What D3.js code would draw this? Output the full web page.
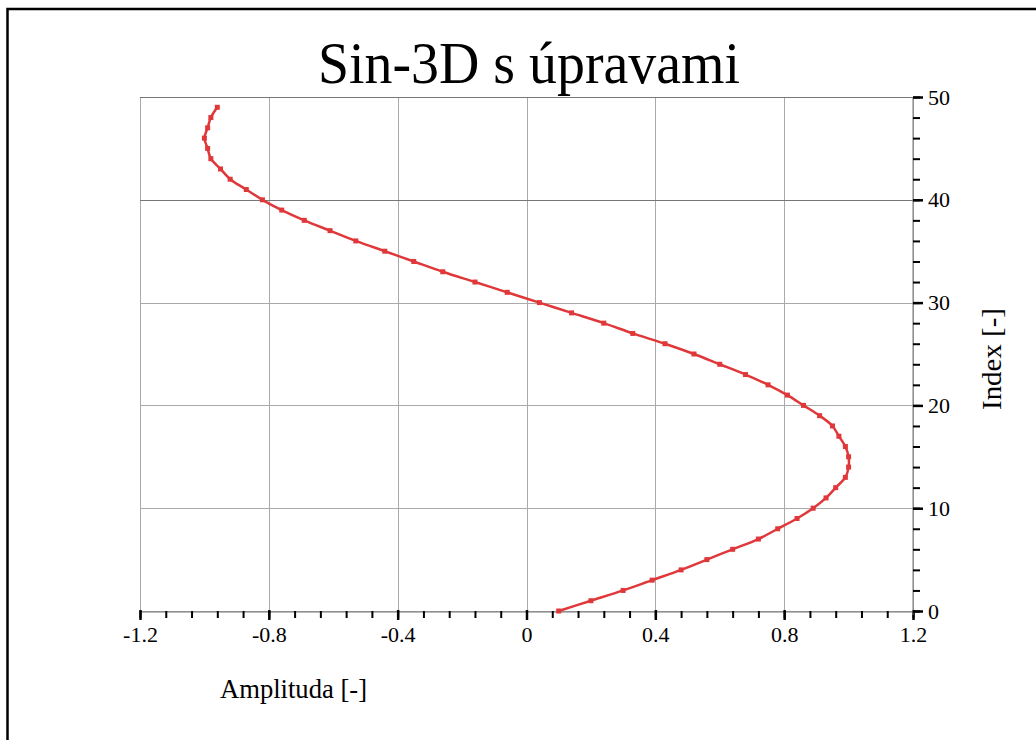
<!DOCTYPE html>
<html>
<head>
<meta charset="utf-8">
<script src="https://cdn.jsdelivr.net/npm/d3@7"></script>
<style>
  html, body { margin: 0; padding: 0; background: #fff; }
  svg { display: block; }
  text { font-family: "Liberation Serif", "Times New Roman", serif; fill: #000; }
</style>
</head>
<body>
<svg id="chart" width="1036" height="740"></svg>
<script>
const title = "Sin-3D s úpravami";
const xLabel = "Amplituda [-]";
const yLabel = "Index [-]";
const indexValues = [0,1,2,3,4,5,6,7,8,9,10,11,12,13,14,15,16,17,18,19,20,21,22,23,24,25,26,27,28,29,30,31,32,33,34,35,36,37,38,39,40,41,42,43,44,45,46,47,48,49];
const amplitudeValues = [0.10,0.20,0.30,0.39,0.48,0.56,0.64,0.72,0.78,0.84,0.89,0.93,0.96,0.99,1.00,1.00,0.99,0.97,0.95,0.91,0.86,0.81,0.75,0.68,0.60,0.52,0.43,0.33,0.24,0.14,0.04,-0.06,-0.16,-0.26,-0.35,-0.44,-0.53,-0.61,-0.69,-0.76,-0.82,-0.87,-0.92,-0.95,-0.98,-0.99,-1.00,-0.99,-0.98,-0.96];
const xTicks = [-1.2,-0.8,-0.4,0,0.4,0.8,1.2];
const xTickLabels = ["-1.2","-0.8","-0.4","0","0.4","0.8","1.2"];
const yTicks = [0,10,20,30,40,50];
const yTickLabels = ["0","10","20","30","40","50"];

const svg = d3.select("#chart");
const L = 140, R = 913, T = 97, B = 611;
const x = d3.scaleLinear().domain([-1.2, 1.2]).range([L, R]);
const y = d3.scaleLinear().domain([0, 50]).range([B, T]);

// outer frame
svg.append("rect").attr("x", 7.5).attr("y", 9).attr("width", 1100).attr("height", 800)
  .attr("fill", "none").attr("stroke", "#000").attr("stroke-width", 2.5);

// grid
const g = svg.append("g");
g.selectAll(".vg").data(xTicks).join("line")
  .attr("x1", d => Math.round(x(d)) + 0.5).attr("x2", d => Math.round(x(d)) + 0.5)
  .attr("y1", T).attr("y2", B).attr("stroke", "#aaa").attr("stroke-width", 1);
g.selectAll(".hg").data(yTicks).join("line")
  .attr("y1", d => Math.round(y(d)) + 0.5).attr("y2", d => Math.round(y(d)) + 0.5)
  .attr("x1", L).attr("x2", R).attr("stroke", d => (d === 40 || d === 50) ? "#777" : "#aaa").attr("stroke-width", 1);

// x axis
const xMinor = d3.range(-1.2, 1.2001, 0.08).map(v => +v.toFixed(2));
const xa = svg.append("g").attr("transform", `translate(0,${B + 1})`);
xa.append("line").attr("x1", L).attr("x2", R).attr("stroke", "#777").attr("stroke-width", 1);
xa.call(d3.axisBottom(x).tickValues(xMinor).tickSize(6).tickFormat(""))
  .call(s => s.select(".domain").remove())
  .call(s => s.selectAll(".tick line").attr("stroke", "#000").attr("stroke-width", 2).attr("y1", -1));
const xa2 = svg.append("g").attr("transform", `translate(0,${B + 1})`);
xa2.call(d3.axisBottom(x).tickValues(xTicks).tickSize(8).tickPadding(6)
    .tickFormat((d, i) => xTickLabels[i]))
  .call(s => s.select(".domain").remove())
  .call(s => s.selectAll(".tick line").attr("stroke", "#000").attr("stroke-width", 2.5).attr("y1", -2))
  .call(s => s.selectAll(".tick text").attr("font-size", 22).attr("font-family", "Liberation Serif").attr("fill", "#000"));

// y axis (right)
const yMinor = d3.range(0, 51, 2);
const ya = svg.append("g").attr("transform", `translate(${R},0)`);
ya.append("line").attr("y1", T).attr("y2", B + 4).attr("stroke", "#777").attr("stroke-width", 1);
ya.call(d3.axisRight(y).tickValues(yMinor).tickSize(7).tickFormat(""))
  .call(s => s.select(".domain").remove())
  .call(s => s.selectAll(".tick line").attr("stroke", "#000").attr("stroke-width", 2));
const ya2 = svg.append("g").attr("transform", `translate(${R},0)`);
ya2.call(d3.axisRight(y).tickValues(yTicks).tickSize(10).tickPadding(5)
    .tickFormat((d, i) => yTickLabels[i]))
  .call(s => s.select(".domain").remove())
  .call(s => s.selectAll(".tick line").attr("stroke", "#000").attr("stroke-width", 2.5))
  .call(s => s.selectAll(".tick text").attr("font-size", 22).attr("font-family", "Liberation Serif").attr("fill", "#000"));

// data line
const data = indexValues.map((d, i) => ({ i: d, a: amplitudeValues[i] }));
const line = d3.line().x(d => x(d.a)).y(d => y(d.i)).curve(d3.curveCatmullRom);
svg.append("path").datum(data).attr("d", line)
  .attr("fill", "none").attr("stroke", "#e0383a").attr("stroke-width", 2.5);
svg.selectAll(".pt").data(data).join("rect")
  .attr("x", d => x(d.a) - 2.5).attr("y", d => y(d.i) - 2.5)
  .attr("width", 5).attr("height", 5).attr("fill", "#e0383a");

// title & labels
svg.append("text").attr("x", 529).attr("y", 83).attr("text-anchor", "middle")
  .attr("font-size", 60).attr("textLength", 422).attr("lengthAdjust", "spacingAndGlyphs").text(title);
svg.append("text").attr("x", 220).attr("y", 698).attr("font-size", 27)
  .attr("textLength", 147).attr("lengthAdjust", "spacingAndGlyphs").text(xLabel);
svg.append("text").attr("transform", "translate(1001,359) rotate(-90)").attr("text-anchor", "middle")
  .attr("font-size", 27).attr("textLength", 102).attr("lengthAdjust", "spacingAndGlyphs").text(yLabel);
</script>
</body>
</html>
